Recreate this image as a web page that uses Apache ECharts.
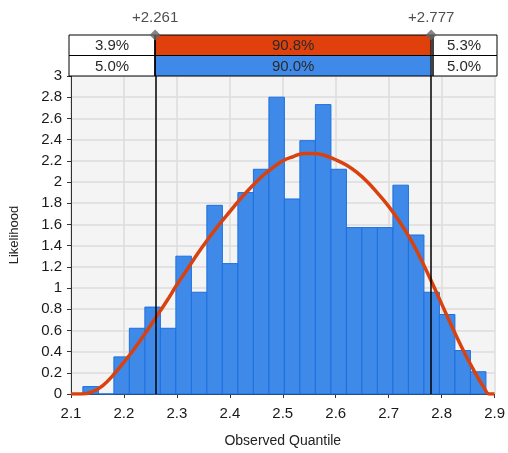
<!DOCTYPE html>
<html>
<head>
<meta charset="utf-8">
<script src="https://cdn.jsdelivr.net/npm/echarts@6/dist/echarts.min.js"></script>
<style>html,body{margin:0;padding:0;background:#fff;}#c{width:508px;height:453px;}</style>
</head>
<body>
<div id="c"></div>
<script>
// Histogram bin edges (Observed Quantile) and bar heights (Likelihood)
const binEdges = [2.1224, 2.1517, 2.1810, 2.2102, 2.2395, 2.2688, 2.2981, 2.3274, 2.3566, 2.3859,
  2.4152, 2.4445, 2.4738, 2.5030, 2.5323, 2.5616, 2.5909, 2.6202, 2.6494, 2.6787,
  2.7080, 2.7373, 2.7666, 2.7958, 2.8251, 2.8544, 2.8837];
const binHeights = [0.07, 0, 0.35, 0.62, 0.82, 0.62, 1.30, 0.96, 1.78, 1.23,
  1.90, 2.12, 2.80, 1.84, 2.39, 2.73, 2.12, 1.57, 1.57, 1.57,
  1.97, 1.50, 0.96, 0.75, 0.41, 0.21];

// Fitted density curve
const curveX = [2.10, 2.12, 2.14, 2.16, 2.18, 2.20, 2.22, 2.24, 2.26, 2.28, 2.30, 2.32, 2.34, 2.36, 2.38,
  2.40, 2.42, 2.44, 2.46, 2.48, 2.50, 2.52, 2.54, 2.56, 2.58, 2.60, 2.62, 2.64, 2.66, 2.68,
  2.70, 2.72, 2.74, 2.76, 2.78, 2.80, 2.82, 2.84, 2.86, 2.88, 2.89, 2.90];
const curveY = [0, 0, 0.02, 0.08, 0.18, 0.30, 0.43, 0.57, 0.72, 0.87, 1.03, 1.18, 1.33, 1.47, 1.60,
  1.72, 1.84, 1.95, 2.05, 2.13, 2.20, 2.24, 2.27, 2.27, 2.25, 2.21, 2.16, 2.09, 2.00, 1.89,
  1.77, 1.63, 1.47, 1.28, 1.07, 0.85, 0.63, 0.42, 0.23, 0.06, 0, 0];

// Threshold markers
const thresholds = [2.261, 2.777];
// Band rows: top row (fitted), bottom row (observed)
const bandTopLabels = ['3.9%', '90.8%', '5.3%'];
const bandBottomLabels = ['5.0%', '90.0%', '5.0%'];

const xMin = 2.1, xMax = 2.9;
const FONT = 'Liberation Sans';

const histData = binHeights.map((h, i) => [binEdges[i], binEdges[i + 1], h]);
const curveData = curveX.map((x, i) => [x, curveY[i]]);
const cellEdges = [xMin, thresholds[0], thresholds[1], xMax];
const bandData = [];
[bandBottomLabels, bandTopLabels].forEach((labels, row) => {
  labels.forEach((lab, j) => {
    let fill = '#ffffff';
    if (j === 1) fill = row === 1 ? '#e0400c' : '#3f8ae8';
    bandData.push({ value: [cellEdges[j], cellEdges[j + 1], row, lab], itemStyle: { color: fill } });
  });
});

const chart = echarts.init(document.getElementById('c'), null, { renderer: 'canvas' });
chart.setOption({
  animation: false,
  textStyle: { fontFamily: FONT },
  grid: [
    { left: 69, right: 11, top: 76, bottom: 58, show: true, backgroundColor: '#f4f4f4', borderWidth: 0 },
    { left: 69, right: 11, top: 35, height: 41, show: false }
  ],
  xAxis: [
    {
      type: 'value', gridIndex: 0, min: xMin, max: xMax, interval: 0.1,
      name: 'Observed Quantile', nameLocation: 'middle', nameGap: 40,
      nameTextStyle: { fontSize: 14, color: '#222', fontFamily: FONT },
      axisLine: { show: true, onZero: false, lineStyle: { color: '#333', width: 1 } },
      axisTick: { show: true, length: 4, lineStyle: { color: '#333' } },
      axisLabel: { fontSize: 15, color: '#1a1a1a', margin: 12, formatter: v => v.toFixed(1) },
      splitLine: { show: true, lineStyle: { color: '#dcdcdc', width: 1.5 } }
    },
    { type: 'value', gridIndex: 1, min: xMin, max: xMax, show: false }
  ],
  yAxis: [
    {
      type: 'value', gridIndex: 0, min: 0, max: 3, interval: 0.2,
      name: 'Likelihood', nameLocation: 'middle', nameGap: 50,
      nameTextStyle: { fontSize: 13, color: '#222', fontFamily: FONT },
      axisLine: { show: true, lineStyle: { color: '#333', width: 1 } },
      axisTick: { show: true, length: 4, lineStyle: { color: '#333' } },
      axisLabel: { fontSize: 15, color: '#1a1a1a', margin: 9, formatter: v => String(parseFloat(v.toFixed(1))) },
      splitLine: { show: true, lineStyle: { color: '#dcdcdc', width: 1.5 } }
    },
    { type: 'value', gridIndex: 1, min: 0, max: 2, show: false }
  ],
  series: [
    {
      type: 'custom', xAxisIndex: 0, yAxisIndex: 0, data: histData, z: 2,
      renderItem: (params, api) => {
        const p0 = api.coord([api.value(0), api.value(2)]);
        const p1 = api.coord([api.value(1), 0]);
        return {
          type: 'rect',
          shape: { x: p0[0], y: p0[1], width: p1[0] - p0[0], height: p1[1] - p0[1] },
          style: { fill: '#3f8ae9', stroke: '#1c6fe0', lineWidth: 1 }
        };
      },
      markLine: {
        silent: true, symbol: 'none', label: { show: false },
        lineStyle: { color: '#000', width: 1.5, type: 'solid' },
        data: thresholds.map(t => ({ xAxis: t }))
      }
    },
    {
      type: 'line', xAxisIndex: 0, yAxisIndex: 0, data: curveData, smooth: 0.4,
      showSymbol: false, z: 4,
      lineStyle: { color: '#d9420f', width: 3.5 }
    },
    {
      type: 'custom', xAxisIndex: 1, yAxisIndex: 1, data: bandData, z: 3,
      renderItem: (params, api) => {
        const p0 = api.coord([api.value(0), api.value(2) + 1]);
        const p1 = api.coord([api.value(1), api.value(2)]);
        const style = api.style();
        return {
          type: 'group',
          children: [
            {
              type: 'rect',
              shape: { x: p0[0], y: p0[1], width: p1[0] - p0[0], height: p1[1] - p0[1] },
              style: { fill: style.fill, stroke: '#000', lineWidth: 1 }
            },
            {
              type: 'text',
              style: {
                x: (p0[0] + p1[0]) / 2, y: (p0[1] + p1[1]) / 2 + 1,
                text: api.value(3), align: 'center', verticalAlign: 'middle',
                fontSize: 15, fontFamily: FONT, fill: '#2a2a2a'
              }
            }
          ]
        };
      },
      markLine: {
        silent: true, symbol: 'none', label: { show: false },
        lineStyle: { color: '#000', width: 1.5, type: 'solid' },
        data: thresholds.map(t => ({ xAxis: t }))
      }
    },
    {
      type: 'scatter', xAxisIndex: 1, yAxisIndex: 1, z: 5, clip: false,
      data: thresholds.map(t => [t, 2]),
      symbol: 'diamond', symbolSize: [11, 11],
      itemStyle: { color: '#666666' },
      label: {
        show: true, position: 'top', distance: 4,
        fontSize: 15, fontFamily: FONT, color: '#222',
        formatter: p => '+' + p.value[0].toFixed(3)
      }
    }
  ]
});
</script>
</body>
</html>
